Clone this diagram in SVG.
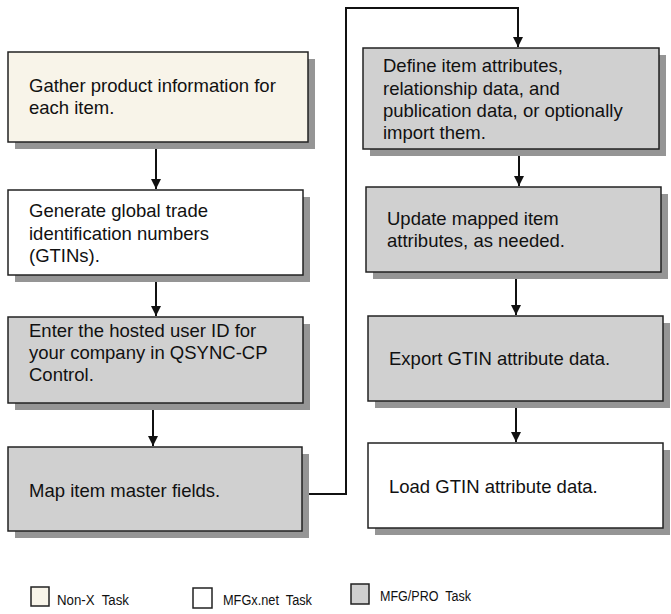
<svg xmlns="http://www.w3.org/2000/svg" width="671" height="614" viewBox="0 0 671 614">
<defs>
<style>
.box{stroke:#222;stroke-width:1.5}
.shadow{fill:#959595}
.nonx{fill:#F8F4E9}
.web{fill:#FFFFFF}
.pro{fill:#D0D0D0}
.t{font-family:"Liberation Sans",Arial,sans-serif;font-size:18.5px;fill:#111}
.lg{font-family:"Liberation Sans",Arial,sans-serif;font-size:15.5px;fill:#111}
.c{fill:none;stroke:#111;stroke-width:2}
</style>
<marker id="ah" viewBox="0 0 10 10" refX="10" refY="5" markerWidth="5" markerHeight="5" orient="auto" markerUnits="strokeWidth">
<path d="M0,0 L10,5 L0,10 z" fill="#111"/>
</marker>
</defs>
<rect width="671" height="614" fill="#fff"/>

<g id="connectors">
<path class="c" d="M156,142 V189" marker-end="url(#ah)"/>
<path class="c" d="M156,275 V316" marker-end="url(#ah)"/>
<path class="c" d="M153,403 V446" marker-end="url(#ah)"/>
<path class="c" d="M302,494 H346 V8 H518 V47" marker-end="url(#ah)"/>
<path class="c" d="M519,149 V186" marker-end="url(#ah)"/>
<path class="c" d="M516,272 V315" marker-end="url(#ah)"/>
<path class="c" d="M516,401 V442" marker-end="url(#ah)"/>
</g>

<g id="n1">
<rect class="shadow" x="15" y="59" width="300" height="90"/>
<rect class="box nonx" x="8" y="52" width="300" height="90"/>
<text class="t" x="29" y="92">Gather product information for</text>
<text class="t" x="29" y="114">each item.</text>
</g>

<g id="n2">
<rect class="shadow" x="15" y="197" width="295" height="85"/>
<rect class="box web" x="8" y="190" width="295" height="85"/>
<text class="t" x="29" y="217">Generate global trade</text>
<text class="t" x="29" y="240">identification numbers</text>
<text class="t" x="29" y="262">(GTINs).</text>
</g>

<g id="n3">
<rect class="shadow" x="15" y="324" width="295" height="86"/>
<rect class="box pro" x="8" y="317" width="295" height="86"/>
<text class="t" x="29" y="337">Enter the hosted user ID for</text>
<text class="t" x="29" y="359">your company in QSYNC-CP</text>
<text class="t" x="29" y="381">Control.</text>
</g>

<g id="n4">
<rect class="shadow" x="15" y="454" width="294" height="84"/>
<rect class="box pro" x="8" y="447" width="294" height="84"/>
<text class="t" x="29" y="497">Map item master fields.</text>
</g>

<g id="n5">
<rect class="shadow" x="370" y="55" width="296" height="101"/>
<rect class="box pro" x="363" y="48" width="296" height="101"/>
<text class="t" x="383" y="72">Define item attributes,</text>
<text class="t" x="383" y="95">relationship data, and</text>
<text class="t" x="383" y="117">publication data, or optionally</text>
<text class="t" x="383" y="139">import them.</text>
</g>

<g id="n6">
<rect class="shadow" x="373" y="194" width="295" height="85"/>
<rect class="box pro" x="366" y="187" width="295" height="85"/>
<text class="t" x="387" y="225">Update mapped item</text>
<text class="t" x="387" y="247">attributes, as needed.</text>
</g>

<g id="n7">
<rect class="shadow" x="375" y="323" width="295" height="85"/>
<rect class="box pro" x="368" y="316" width="295" height="85"/>
<text class="t" x="389" y="365">Export GTIN attribute data.</text>
</g>

<g id="n8">
<rect class="shadow" x="375" y="450" width="295" height="85"/>
<rect class="box web" x="368" y="443" width="295" height="85"/>
<text class="t" x="389" y="493">Load GTIN attribute data.</text>
</g>

<g id="legend">
<rect class="box nonx" x="31" y="587" width="18" height="19"/>
<text class="lg" x="57" y="605" textLength="72" lengthAdjust="spacingAndGlyphs" xml:space="preserve">Non-X  Task</text>
<rect class="box web" x="193" y="588" width="19" height="20"/>
<text class="lg" x="223" y="605" textLength="89" lengthAdjust="spacingAndGlyphs" xml:space="preserve">MFGx.net  Task</text>
<rect class="box pro" x="351" y="584" width="18" height="20"/>
<text class="lg" x="380" y="601" textLength="91" lengthAdjust="spacingAndGlyphs" xml:space="preserve">MFG/PRO  Task</text>
</g>
</svg>
